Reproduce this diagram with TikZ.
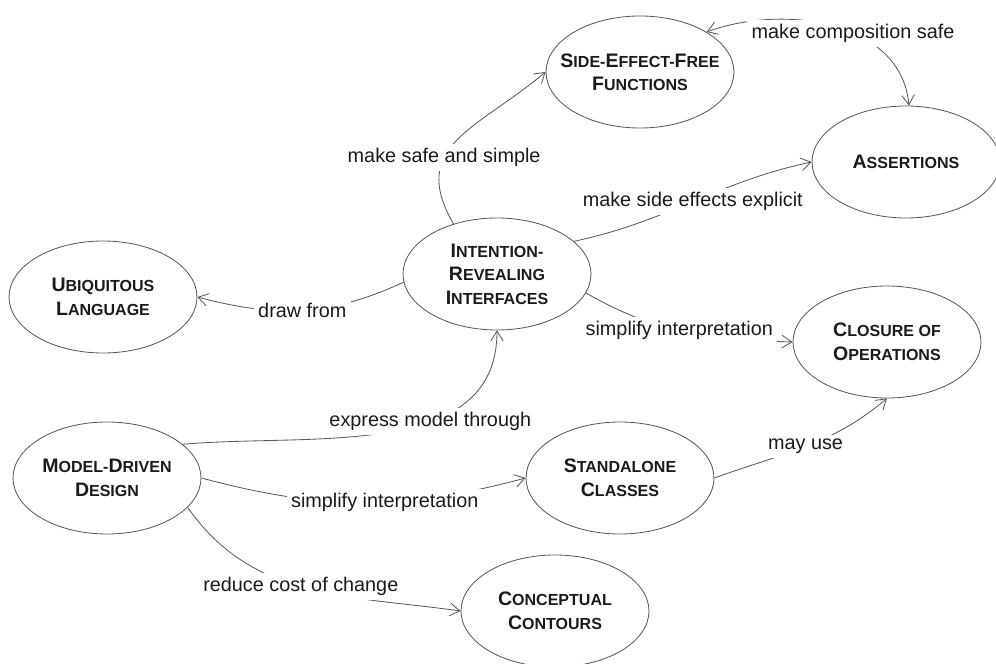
\documentclass[tikz,border=0pt]{standalone}
\usepackage{fontspec}
\setmainfont{Liberation Sans}
\usepackage{xcolor}
\usepackage{tikz}
\usetikzlibrary{shapes.geometric, arrows.meta, positioning}
\definecolor{edge}{HTML}{5A5A5A}
\definecolor{ink}{HTML}{1A1A1A}
\newcommand{\capsc}[2]{{\fontsize{13.9pt}{16.7pt}\selectfont #1}#2}

\begin{document}
\begin{tikzpicture}[
    on grid,
    concept/.style={ellipse, draw=edge, line width=0.6pt,
                    minimum width=4.7cm, minimum height=2.8cm,
                    inner xsep=-0.8cm, inner ysep=0pt, align=center,
                    text=ink, font=\fontsize{11.4pt}{16.7pt}\selectfont\bfseries},
    arrow/.style={-{Straight Barb[length=7pt, width=9pt]}, line width=0.6pt,
                  color=edge},
    twoway/.style={arrow, {Straight Barb[length=7pt, width=9pt]}-{Straight Barb[length=7pt, width=9pt]}},
    linklabel/.style={fill=white, inner sep=3pt, text=ink,
                      font=\fontsize{14.1pt}{17pt}\selectfont}
]
\useasboundingbox (-12.425,-9.75) rectangle (12.475,6.85);

\node[concept] (iri) at (0,0) {\capsc{I}{NTENTION}-\\\capsc{R}{EVEALING}\\\capsc{I}{NTERFACES}};
\node[concept, above right=5.05cm and 3.575cm of iri] (sef)
     {\capsc{S}{IDE}-\capsc{E}{FFECT}-\capsc{F}{REE}\\\capsc{F}{UNCTIONS}};
\node[concept, below right=2.25cm and 6.65cm of sef] (asr) {\capsc{A}{SSERTIONS}};
\node[concept, below left=0.575cm and 9.85cm of iri] (ul)
     {\capsc{U}{BIQUITOUS}\\\capsc{L}{ANGUAGE}};
\node[concept, below right=1.7cm and 9.75cm of iri] (co)
     {\capsc{C}{LOSURE OF}\\\capsc{O}{PERATIONS}};
\node[concept, below left=5.1cm and 9.75cm of iri] (mdd)
     {\capsc{M}{ODEL}-\capsc{D}{RIVEN}\\\capsc{D}{ESIGN}};
\node[concept, right=12.825cm of mdd] (sc) {\capsc{S}{TANDALONE}\\\capsc{C}{LASSES}};
\node[concept, below left=3.325cm and 1.625cm of sc] (cc)
     {\capsc{C}{ONCEPTUAL}\\\capsc{C}{ONTOURS}};

\draw[arrow] (iri.131) to[out=120, in=220, looseness=1.3]
     node[linklabel, pos=.37] {make safe and simple} (sef.west);
\draw[twoway] (sef.31) to[out=20, in=95]
     node[linklabel, pos=.58] {make composition safe} (asr.87);
\draw[arrow] (iri.23) to[out=12, in=192]
     node[linklabel] {make side effects explicit} (asr.west);
\draw[arrow] (iri.185) to[out=205, in=-15]
     node[linklabel] {draw from} (ul.east);
\draw[arrow] (iri.-12) to[out=-30, in=178]
     node[linklabel, pos=.47] {simplify interpretation} (co.west);
\draw[arrow] (mdd.24) to[out=5, in=-90]
     node[linklabel, pos=.62] {express model through} (iri.south);
\draw[arrow] (mdd.east) to[out=-15, in=195]
     node[linklabel, pos=.57] {simplify interpretation} (sc.west);
\draw[arrow] (mdd.-20) to[out=-55, in=172]
     node[linklabel, pos=.48] {reduce cost of change} (cc.west);
\draw[arrow] (sc.east) to[out=20, in=-140]
     node[linklabel] {may use} (co.south);

\end{tikzpicture}
\end{document}
